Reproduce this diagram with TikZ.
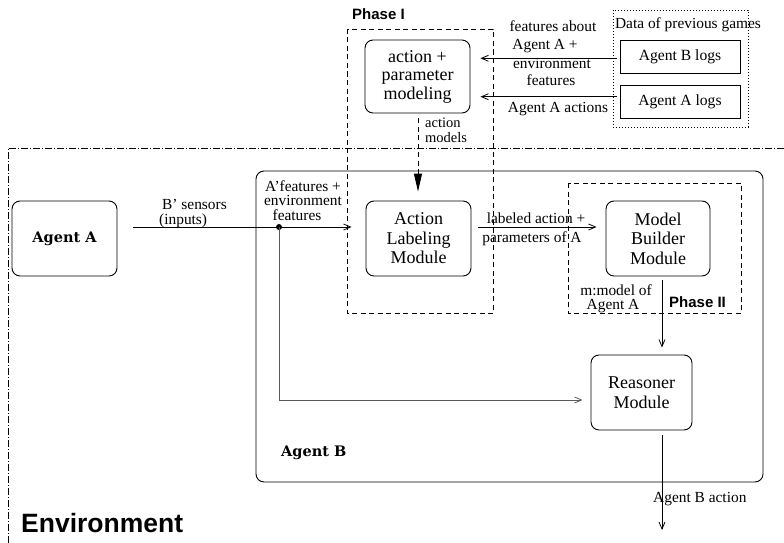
\documentclass[tikz,border=0pt]{standalone}
\usepackage{fontspec}
\setmainfont{Liberation Serif}
\newfontfamily\agentfont{DejaVu Serif}
\newfontfamily\phasefont{Liberation Sans}
\usetikzlibrary{arrows.meta,calc}
\begin{document}
\begin{tikzpicture}[x=1pt,y=-1pt,
  txt/.style={font=\fontsize{15.6}{19.5}\selectfont},
  modbox/.style={draw, line width=0.9pt, rounded corners=8pt, inner sep=0pt, align=center, font=\fontsize{18}{19.5}\selectfont},
  logbox/.style={draw, line width=0.9pt, minimum width=120pt, minimum height=33pt, inner sep=0pt, txt},
  lbl/.style={font=\fontsize{15.4}{15}\selectfont, inner sep=0pt, anchor=base},
  arr/.style={-{Straight Barb[length=7pt,width=6pt]}, line width=0.8pt},
  phasebox/.style={draw, line width=0.9pt, dash pattern=on 5pt off 3.5pt},
  boldlbl/.style={font=\agentfont\bfseries\fontsize{14.5}{16}\selectfont, inner sep=0pt, anchor=base},
  phaselbl/.style={font=\phasefont\bfseries\fontsize{15}{16}\selectfont, inner sep=0pt, anchor=base west}]
\useasboundingbox (0,0) rectangle (784,543);

% environment
\draw[line width=0.6pt, dash pattern=on 7pt off 2pt on 1pt off 2pt] (784,148) -- (8,148) -- (8,543);
\node[font=\phasefont\bfseries\fontsize{26.5}{28}\selectfont, inner sep=0pt, anchor=base west] (envl) at (21,532) {Environment};

% Agent B container
\draw[line width=0.9pt, rounded corners=8pt] (256,171) rectangle (763,482);
\node[boldlbl, anchor=base west] (agentBl) at (281,456) {Agent B};

% Phase boxes
\draw[phasebox] (347,29) rectangle (493,313);
\node[phaselbl] (ph1) at (352,20) {Phase I};
\draw[phasebox] (568,183) rectangle (741,313);
\node[phaselbl] (ph2) at (669,307) {Phase II};

% data of previous games
\draw[line width=0.8pt, dash pattern=on 1pt off 2pt] (613,10) rectangle (748,127);
\node[lbl] (datal) at (688,29) {Data of previous games};
\node[logbox] (blogs) at (680,56.5) {Agent B logs};
\node[logbox] (alogs) at (680,101.5) {Agent A logs};

% modules
\node[modbox, minimum width=105pt, minimum height=73pt, font=\fontsize{18}{18.5}\selectfont] (apm) at (417.5,76.5) {action +\\parameter\\modeling};
\node[modbox, minimum width=105pt, minimum height=75pt, font=\agentfont\bfseries\fontsize{14.5}{16}\selectfont] (agentA) at (64.5,238.5) {Agent A};
\node[modbox, minimum width=105pt, minimum height=75pt] (alm) at (418.5,238.5) {Action\\Labeling\\Module};
\node[modbox, minimum width=104pt, minimum height=75pt] (mbm) at (658,238.5) {Model\\Builder\\Module};
\node[modbox, minimum width=101pt, minimum height=75pt] (reas) at (641.5,392.5) {Reasoner\\Module};

% arrows from logs
\draw[arr, shorten <=3pt, shorten >=10pt] ($(blogs.west)+(0,1.8)$) -- ($(blogs.west -| apm.east)+(0,1.8)$);
\draw[arr, shorten <=3pt, shorten >=10pt] ($(alogs.west)+(0,-4.8)$) -- ($(alogs.west -| apm.east)+(0,-4.8)$);
\node[lbl] (l1) at (553,32) {features about};
\node[lbl] (l2) at (545,50) {Agent A +};
\node[lbl] (l3) at (552,69) {environment};
\node[lbl] (l4) at (551,85) {features};
\node[lbl] (l5) at (558,112) {Agent A actions};

% action models
\draw[line width=0.9pt, dash pattern=on 5pt off 3.5pt, -{Triangle[length=18pt,width=8pt]}] ($(apm.south)+(0.5,5)$) -- ($(alm.north)+(-0.5,-9)$);
\node[lbl, anchor=base west, font=\fontsize{14.5}{15}\selectfont] (am1) at (425,127) {action};
\node[lbl, anchor=base west, font=\fontsize{14.5}{15}\selectfont] (am2) at (425,142) {models};

% sensors
\coordinate (dot) at (279,227);
\draw[arr] ($(agentA.east)+(16,-11.5)$) -- ($(alm.west)+(-14,-11.5)$);
\fill (dot) circle (3pt);
\node[lbl, anchor=base west] (s1) at (162,209) {B' sensors};
\node[lbl, anchor=base west] (s2) at (159,224) {(inputs)};
\node[lbl] (f1) at (303,191) {A'features +};
\node[lbl] (f2) at (303,205) {environment};
\node[lbl] (f3) at (297,220) {features};

% gray line to reasoner
\draw[arr, draw=black!65] (dot) |- ($(reas.west)+(-8,7.5)$);

% labeled action
\draw[arr] ($(alm.east)+(7,-11.5)$) -- ($(mbm.west)+(-9,-11.5)$);
\node[lbl] (la1) at (536,223) {labeled action +};
\node[lbl] (la2) at (532,242) {parameters of A};

% model to reasoner
\draw[arr] ($(mbm.south)+(4,4)$) -- ($(reas.north)+(20.5,-7)$);
\node[lbl] (m1) at (616,295) {m:model of};
\node[lbl] (m2) at (613,309) {Agent A};

% output
\coordinate (outp) at (662,530);
\draw[arr] ($(reas.south)+(20.5,5)$) -- (outp);
\node[lbl, anchor=base west] (ba) at (653,502) {Agent B action};
\end{tikzpicture}
\end{document}
